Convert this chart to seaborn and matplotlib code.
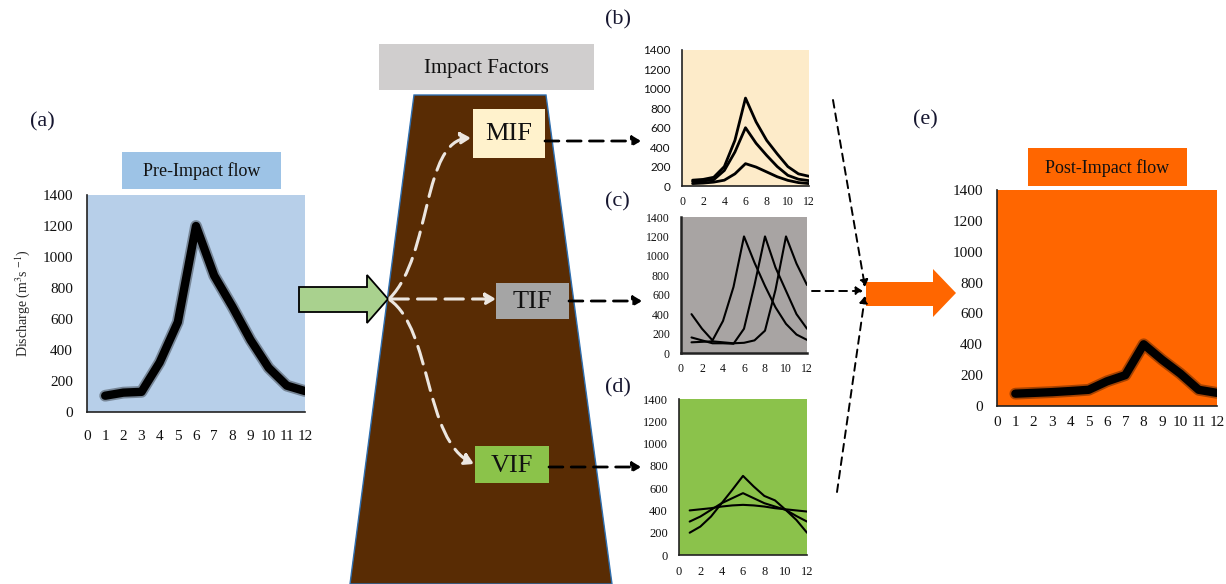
import matplotlib
matplotlib.use("Agg")
import matplotlib.pyplot as plt
import seaborn as sns
from matplotlib.patches import Polygon, Rectangle, FancyArrowPatch
from matplotlib.path import Path

# ---- data (discharge, m3/s, by month) ----
months = list(range(1, 13))
pre_impact = [105, 125, 130, 320, 580, 1200, 880, 680, 465, 285, 170, 135]
post_impact = [80, 85, 90, 97, 105, 160, 200, 400, 300, 210, 105, 85]

mif_high = [60, 68, 90, 200, 470, 905, 660, 470, 330, 200, 125, 100]
mif_mid = [45, 52, 65, 160, 350, 600, 440, 315, 200, 110, 70, 55]
mif_low = [25, 30, 40, 60, 125, 230, 195, 145, 95, 58, 35, 25]

tif_early = [400, 250, 130, 330, 680, 1200, 930, 690, 470, 300, 190, 135]
tif_mid = [160, 130, 100, 100, 95, 250, 700, 1200, 880, 640, 400, 250]
tif_late = [110, 115, 120, 110, 100, 105, 130, 230, 650, 1200, 920, 700]

vif_peak = [200, 255, 345, 465, 585, 710, 615, 530, 490, 405, 315, 200]
vif_mid = [300, 345, 405, 465, 510, 555, 510, 465, 435, 405, 350, 300]
vif_flat = [400, 410, 420, 435, 445, 450, 445, 435, 420, 410, 400, 390]

y_ticks = [0, 200, 400, 600, 800, 1000, 1200, 1400]
x_ticks_full = list(range(0, 13))
x_ticks_half = list(range(0, 13, 2))

panel_tags = ["(a)", "(b)", "(c)", "(d)", "(e)"]
factor_names = ["MIF", "TIF", "VIF"]

# ---- style ----
sns.set_theme(style="white")
plt.rcParams["font.family"] = ["Liberation Serif", "DejaVu Serif"]
plt.rcParams["mathtext.fontset"] = "stix"

W, H = 1226, 584
fig = plt.figure(figsize=(W / 100, H / 100), dpi=100)
fig.patch.set_facecolor("white")


def px_axes(x0, y0, x1, y1):
    return fig.add_axes([x0 / W, 1 - y1 / H, (x1 - x0) / W, (y1 - y0) / H])


def style_panel(ax, bg, xticks, fsize, ypad, xpad, spine_w=1.2, sans=False):
    ax.set_facecolor(bg)
    ax.set_xlim(0, 12)
    ax.set_ylim(0, 1400)
    ax.set_xticks(xticks)
    ax.set_yticks(y_ticks)
    ax.set_xticklabels([str(v) for v in xticks])
    ax.set_yticklabels([str(v) for v in y_ticks])
    ax.tick_params(axis="both", length=0, labelsize=fsize, colors="#111111")
    ax.tick_params(axis="y", pad=ypad)
    ax.tick_params(axis="x", pad=xpad)
    if sans:
        for lbl in ax.get_yticklabels():
            lbl.set_fontfamily(["Lato", "DejaVu Sans"])
    for s in ["top", "right"]:
        ax.spines[s].set_visible(False)
    for s in ["left", "bottom"]:
        ax.spines[s].set_color("#222222")
        ax.spines[s].set_linewidth(spine_w)
    ax.set_xlabel("")
    ax.set_ylabel("")


def thick_line(ax, y):
    sns.lineplot(x=months, y=y, ax=ax, color="black", lw=8.5, alpha=0.35,
                 solid_capstyle="round", solid_joinstyle="round")
    sns.lineplot(x=months, y=y, ax=ax, color="black", lw=6.0,
                 solid_capstyle="round", solid_joinstyle="round")


def thin_lines(ax, series, lw):
    for y in series:
        sns.lineplot(x=months, y=y, ax=ax, color="black", lw=lw,
                     solid_capstyle="round", solid_joinstyle="round")


# (a) pre-impact flow
ax_a = px_axes(87, 195, 305, 412)
thick_line(ax_a, pre_impact)
style_panel(ax_a, "#b7cfe9", x_ticks_full, 11, 10, 13)
ax_a.set_ylabel(r"Discharge (m$^{3}$s $^{-1}$)", fontsize=10, labelpad=8)

# (b) magnitude impact factor
ax_b = px_axes(682, 50, 809, 186)
thin_lines(ax_b, [mif_high, mif_mid, mif_low], 2.0)
style_panel(ax_b, "#fdebc9", x_ticks_half, 8.5, 8, 7, sans=True)

# (c) timing impact factor
ax_c = px_axes(681, 217, 807, 353)
thin_lines(ax_c, [tif_early, tif_mid, tif_late], 1.5)
style_panel(ax_c, "#a8a4a3", x_ticks_half, 8.5, 8, 7, spine_w=1.8)

# (d) variability impact factor
ax_d = px_axes(679, 399, 807, 555)
thin_lines(ax_d, [vif_peak, vif_mid, vif_flat], 1.5)
style_panel(ax_d, "#8bc24b", x_ticks_half, 9, 8, 8)

# (e) post-impact flow
ax_e = px_axes(997, 190, 1217, 406)
thick_line(ax_e, post_impact)
style_panel(ax_e, "#ff6600", x_ticks_full, 11, 10, 7)

# ---- overlay for the diagram shapes ----
ov = fig.add_axes([0, 0, 1, 1])
ov.set_xlim(0, W)
ov.set_ylim(H, 0)
ov.axis("off")
ov.patch.set_alpha(0)

# trapezoid of impact factors
ov.add_patch(Polygon([(414, 95), (546, 95), (612, 584), (350, 584)],
                     closed=True, facecolor="#592c04", edgecolor="#2f6fb0",
                     lw=1.0, zorder=1))

# header boxes
def box(x0, y0, x1, y1, color, text, size):
    ov.add_patch(Rectangle((x0, y0), x1 - x0, y1 - y0, facecolor=color,
                           edgecolor="none", zorder=3))
    ov.text((x0 + x1) / 2, (y0 + y1) / 2 + 1, text, ha="center", va="center",
            fontsize=size, color="#111111", zorder=4)


box(379, 44, 594, 90, "#d0cece", "Impact Factors", 15)
box(122, 152, 281, 189, "#9dc3e6", "Pre-Impact flow", 13)
box(1028, 148, 1187, 186, "#ff6600", "Post-Impact flow", 13)
box(473, 109, 545, 158, "#fff2cc", factor_names[0], 19)
box(496, 283, 569, 319, "#a5a5a5", factor_names[1], 19)
box(475, 446, 549, 483, "#8bc34a", factor_names[2], 19)

# panel tags
for tag, (tx, ty) in zip(panel_tags, [(42, 122), (618, 20), (617, 202),
                                       (618, 388), (925, 120)]):
    ov.text(tx, ty, tag, ha="center", va="center", fontsize=16,
            color="#161630", zorder=4)

# green arrow into the impact factors
ov.add_patch(Polygon([(299, 287), (367, 287), (367, 275), (388, 299),
                      (367, 323), (367, 312), (299, 312)], closed=True,
                     facecolor="#a9d18e", edgecolor="black", lw=1.3, zorder=5))

# orange arrow to post-impact flow
ov.add_patch(Polygon([(866, 282), (933, 282), (933, 269), (956, 293),
                      (933, 317), (933, 306), (866, 306)], closed=True,
                     facecolor="#ff6600", edgecolor="none", zorder=5))

# white dashed branches inside the trapezoid
white = "#ece6e0"
curves = [
    [(390, 298), (432, 255), (422, 140), (471, 138)],
    [(390, 300), (432, 330), (424, 440), (474, 464)],
]
for pts in curves:
    p = Path(pts, [Path.MOVETO, Path.CURVE4, Path.CURVE4, Path.CURVE4])
    ov.add_patch(FancyArrowPatch(path=p, arrowstyle="-|>,head_length=6,head_width=3.5",
                                 color=white, lw=2.2, linestyle=(0, (6, 3)),
                                 transform=ov.transData, zorder=6))
ov.add_patch(FancyArrowPatch((390, 299), (496, 299),
                             arrowstyle="-|>,head_length=6,head_width=3.5",
                             color=white, lw=2.2, linestyle=(0, (6, 3)),
                             shrinkA=0, shrinkB=0, zorder=6))

# black dashed arrows from factors to panels
for (x0, y0, x1) in [(545, 141, 641), (569, 301, 642), (549, 467, 641)]:
    ov.add_patch(FancyArrowPatch((x0, y0), (x1, y0),
                                 arrowstyle="-|>,head_length=5,head_width=3",
                                 color="black", lw=2.0, linestyle=(0, (5, 3)),
                                 shrinkA=0, shrinkB=0, zorder=6))

# thin dashed arrows converging on the orange arrow
for (x0, y0, x1, y1) in [(833, 100, 865, 287), (837, 492, 865, 296),
                         (812, 291, 863, 291)]:
    ov.add_patch(FancyArrowPatch((x0, y0), (x1, y1),
                                 arrowstyle="-|>,head_length=4,head_width=2.5",
                                 color="black", lw=1.4, linestyle=(0, (4, 3)),
                                 shrinkA=0, shrinkB=0, zorder=6))

fig.savefig("out.png", dpi=100, facecolor="white")
